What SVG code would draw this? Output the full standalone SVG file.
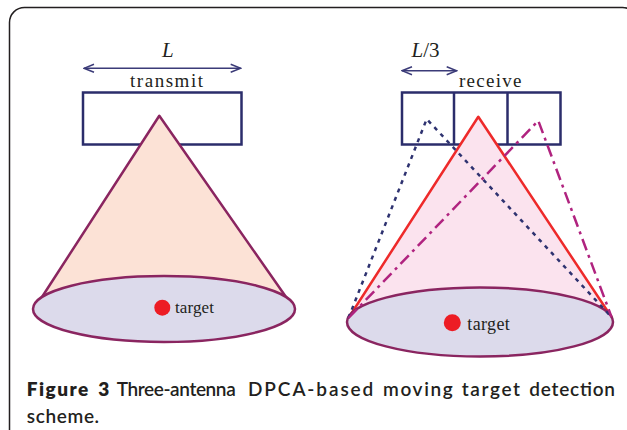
<svg xmlns="http://www.w3.org/2000/svg" width="627" height="430" viewBox="0 0 627 430">
  <defs>
    <marker id="chev" viewBox="0 0 12 10" refX="11" refY="5" markerWidth="12" markerHeight="10" markerUnits="userSpaceOnUse" orient="auto-start-reverse">
      <path d="M1 1 L11 5 L1 9" fill="none" stroke="#3b3b78" stroke-width="1.5"/>
    </marker>
  </defs>
  <style>
    .frame { fill: none; stroke: #231f20; stroke-width: 1.5; }
    .ant { fill: #ffffff; stroke: #2b2d6b; stroke-width: 2.5; }
    .antdiv { stroke: #2b2d6b; stroke-width: 2.5; }
    .lbl { font-family: "Liberation Serif", "Times New Roman", serif; fill: #231f20; }
    .dim { font-family: "Liberation Serif", "Times New Roman", serif; font-style: italic; font-size: 21px; fill: #231f20; }
    .dimline { stroke: #3b3b78; stroke-width: 1.5; fill: none; }
    .ground { fill: #dcdaeb; stroke: #8a2560; stroke-width: 2.5; }
    .dot { fill: #ed1c24; }
    .txbeam { fill: #fce2d6; stroke: #8a2560; stroke-width: 2.5; stroke-linejoin: round; }
    .rxbeam { fill: #fbe3ee; stroke: #ee2a2a; stroke-width: 2.5; stroke-linejoin: round; }
    .dotted { fill: none; stroke: #2e3270; stroke-width: 2.5; stroke-dasharray: 4 5; }
    .dashdot { fill: none; stroke: #b0237f; stroke-width: 2.5; stroke-dasharray: 12 5 3 5; }
    .cap { font-family: "Lato", "Open Sans", "Liberation Sans", sans-serif; font-size: 19px; fill: #231f20; font-weight: 600; }
    .capb { font-weight: 800; }
  </style>

  <!-- outer panel -->
  <rect class="frame" x="9.5" y="7.5" width="628" height="480" rx="15"/>

  <!-- transmit side -->
  <g id="transmit-antenna">
    <rect class="ant" x="83" y="92.5" width="158.5" height="52"/>
    <text class="lbl" x="130" y="87" font-size="19" textLength="73" lengthAdjust="spacing">transmit</text>
  </g>
  <g id="transmit-beam">
    <polygon class="txbeam" points="159.3,115.7 42,297 286,297"/>
  </g>
  <g id="transmit-footprint">
    <ellipse class="ground" cx="164" cy="309" rx="131" ry="33"/>
    <circle class="dot" cx="162.3" cy="307.7" r="8"/>
    <text class="lbl" x="175" y="313" font-size="17" textLength="39" lengthAdjust="spacing">target</text>
  </g>

  <!-- receive side -->
  <g id="receive-antenna">
    <rect class="ant" x="402" y="92.5" width="158.5" height="52"/>
    <line class="antdiv" x1="454" y1="92.5" x2="454" y2="144.5"/>
    <line class="antdiv" x1="507.5" y1="92.5" x2="507.5" y2="144.5"/>
    <text class="lbl" x="459" y="86.7" font-size="19" textLength="62.5" lengthAdjust="spacing">receive</text>
  </g>
  <g id="receive-beam">
    <polygon class="rxbeam" points="478.3,116.7 348.5,318 611.5,317"/>
  </g>
  <g id="receive-footprint">
    <ellipse class="ground" cx="480" cy="322" rx="133" ry="34.5"/>
    <circle class="dot" cx="452.3" cy="322.7" r="8.5"/>
    <text class="lbl" x="467.3" y="330" font-size="18" textLength="42.5" lengthAdjust="spacing">target</text>
  </g>
  <g id="sub-aperture-beams">
    <polyline class="dotted" points="348.5,318 426.7,119 611.5,317"/>
    <polyline class="dashdot" points="348.5,318 538.3,120.7 611.5,317"/>
  </g>

  <!-- dimension arrows -->
  <g id="connectors">
    <line class="dimline" x1="84" y1="68.3" x2="240.7" y2="68.3" marker-start="url(#chev)" marker-end="url(#chev)"/>
    <line class="dimline" x1="402" y1="70.7" x2="456.7" y2="70.7" marker-start="url(#chev)" marker-end="url(#chev)"/>
  </g>
  <text class="dim" x="162" y="57">L</text>
  <text class="dim" x="411.5" y="57">L<tspan font-style="normal">/3</tspan></text>

  <!-- caption, one word per text so the line stays justified -->
  <g id="caption">
    <text class="cap capb" x="26.7" y="396" textLength="61.6" lengthAdjust="spacing">Figure</text>
    <text class="cap capb" x="98.3" y="396">3</text>
    <text class="cap" x="116.7" y="396" textLength="119" lengthAdjust="spacing">Three-antenna</text>
    <text class="cap" x="248" y="396" textLength="125.3" lengthAdjust="spacing">DPCA-based</text>
    <text class="cap" x="383" y="396" textLength="69.7" lengthAdjust="spacing">moving</text>
    <text class="cap" x="461.7" y="396" textLength="58.3" lengthAdjust="spacing">target</text>
    <text class="cap" x="529.3" y="396" textLength="85.7" lengthAdjust="spacing">detection</text>
    <text class="cap" x="26.7" y="422.5" textLength="67.3" lengthAdjust="spacing">scheme</text>
    <text class="cap" x="94.5" y="422.5" font-weight="400">.</text>
  </g>
</svg>
